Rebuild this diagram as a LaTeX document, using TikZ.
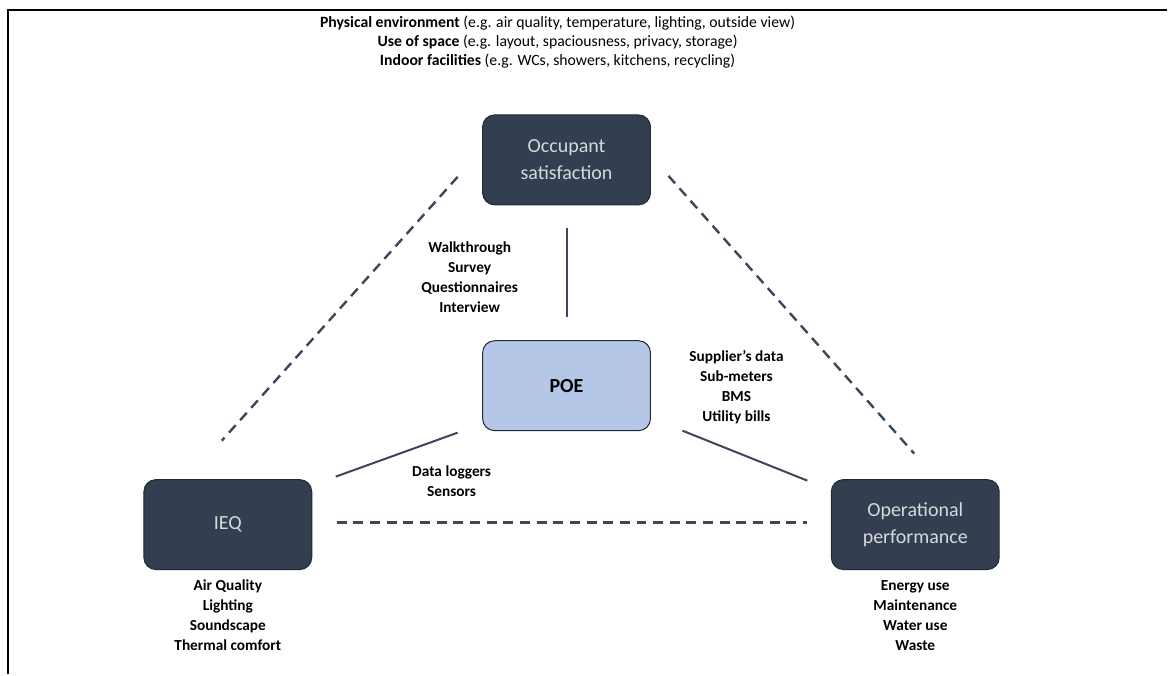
\documentclass[tikz,border=0pt]{standalone}
\usepackage{fontspec}
\setmainfont{Carlito}

\tikzset{every picture/.style={line width=0.75pt}}
\tikzset{
  darkbox/.style={draw={rgb, 255:red, 33; green, 41; blue, 54}, fill={rgb, 255:red, 51; green, 63; blue, 80},
    rounded corners=9pt, minimum width=126pt, minimum height=67.5pt, align=center,
    text={rgb, 255:red, 214; green, 216; blue, 220}, font=\fontsize{15}{20}\selectfont},
  poebox/.style={draw={rgb, 255:red, 33; green, 41; blue, 54}, fill={rgb, 255:red, 180; green, 199; blue, 231},
    rounded corners=9pt, minimum width=126pt, minimum height=67.5pt, font=\fontsize{15}{20}\selectfont\bfseries},
  methods/.style={align=center, inner sep=0.75pt, font=\fontsize{11.5}{15}\selectfont\bfseries},
  link/.style={draw={rgb, 255:red, 59; green, 71; blue, 90}, line width=1.5pt},
  dashlink/.style={link, line width=1.8pt, dash pattern=on 7.5pt off 5pt},
}

\begin{document}
\begin{tikzpicture}[x=0.75pt,y=0.75pt,yscale=-1,xscale=1]
\path (0,0) rectangle (1168,675);

% frame
\draw [line width=1.4pt] (8,675) -- (8,10) -- (1168,10) ;

% Boxes
\node [darkbox] (occ) at (567,160) {Occupant\\satisfaction};
\node [poebox] (poe) at (567,386) {POE};
\node [darkbox] (ieq) at (228,525) {IEQ};
\node [darkbox] (ops) at (916,525) {Operational\\performance};

% line ends
\coordinate (occS) at (567,228);
\coordinate (poeN) at (567,317);
\coordinate (poeSW) at (458,433);
\coordinate (ieqNE) at (336,477);
\coordinate (poeSE) at (683,431);
\coordinate (opsNW) at (808,481);
\coordinate (occW) at (458,177);
\coordinate (ieqN) at (222,441);
\coordinate (occE) at (669,176);
\coordinate (opsN) at (915,454);
\coordinate (ieqE) at (337,523);
\coordinate (opsW) at (808,523);

% Solid links to POE
\draw [link] (occS) -- (poeN) ;
\draw [link] (poeSW) -- (ieqNE) ;
\draw [link] (poeSE) -- (opsNW) ;
% Dashed triangle
\draw [dashlink] (occW) -- (ieqN) ;
\draw [dashlink] (occE) -- (opsN) ;
\draw [dashlink] (ieqE) -- (opsW) ;

% Text Node
\node [align=center, inner sep=0.75pt, font=\fontsize{11.8}{14.25}\selectfont] (aspects) at (558,42)
  {\textbf{Physical environment} (e.g. air quality, temperature, lighting, outside view)\\
   \textbf{Use of space} (e.g. layout, spaciousness, privacy, storage)\\
   \textbf{Indoor facilities} (e.g. WCs, showers, kitchens, recycling)};
% Text Node
\node [methods] (survey) at (470,277) {Walkthrough\\Survey\\Questionnaires\\Interview};
% Text Node
\node [methods] (metering) at (737,387) {Supplier’s data\\Sub-meters\\BMS\\Utility bills};
% Text Node
\node [methods] (logging) at (452,482) {Data loggers\\Sensors};
% Text Node
\node [methods] (ieqlist) at (228,616) {Air Quality\\Lighting\\Soundscape\\Thermal comfort};
% Text Node
\node [methods] (opslist) at (916,616) {Energy use\\Maintenance\\Water use\\Waste};

\end{tikzpicture}
\end{document}
